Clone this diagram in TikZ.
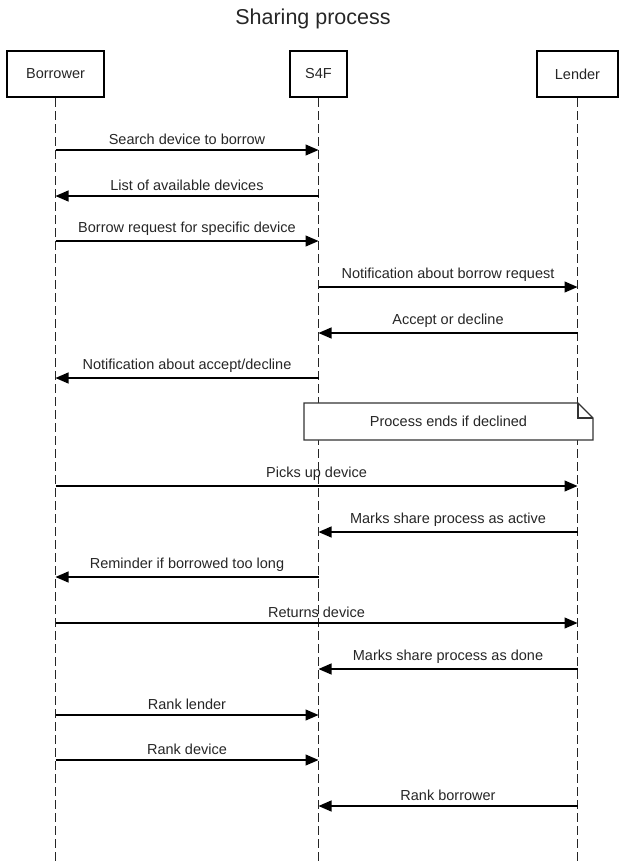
\documentclass[tikz,border=0pt]{standalone}
\usepackage{fontspec}
\setmainfont{Liberation Sans}
\usepackage{tikz}
\usetikzlibrary{arrows.meta, positioning, calc}
\tikzstyle{arrow} = [line width=1.1pt, -{Triangle[length=13pt, width=11pt]}]
\tikzstyle{participant} = [rectangle, minimum width=97pt, minimum height=46pt, text centered, draw=black, line width=2.4pt, font=\fontsize{14.5}{17}\selectfont, text=black!85]
\tikzstyle{lifeline} = [dash pattern=on 9pt off 4pt, line width=1.2pt, draw=black!85]
\tikzstyle{msg} = [above, inner sep=0pt, yshift=5pt, font=\fontsize{14.5}{17}\selectfont, text=black!85]

\begin{document}
\begin{tikzpicture}[x=1pt, y=-1pt]
    \useasboundingbox (0,0) rectangle (626,863);
    % Title
    \node[font=\fontsize{21.5}{25}\selectfont, text=black!85] (title) at (313,18.5) {Sharing process};

    % Actors
    \node[participant] (borrower) at (55.5,74) {Borrower};
    \node[participant, minimum width=57pt] (s4f) at (318.5,74) {S4F};
    \node[participant, minimum width=81pt] (lender) at (577.5,74) {Lender};

    % Timeline
    \draw[lifeline] (borrower.south) -- (borrower |- 0,863);
    \draw[lifeline] (s4f.south) -- (s4f |- 0,863);
    \draw[lifeline] (lender.south) -- (lender |- 0,863);

    % Note
    \coordinate (note) at (448.5,421.5);
    \filldraw[fill=white, draw=black!80, line width=1.1pt] ($(note)+(-144.5,18.5)$) -- ($(note)+(-144.5,-18.5)$) -- ($(note)+(129.5,-18.5)$) -- ($(note)+(144.5,-3.5)$) -- ($(note)+(144.5,18.5)$) -- cycle;
    \draw[black!80, line width=1.1pt] ($(note)+(129.5,-18.5)$) -- ($(note)+(129.5,-3.5)$) -- ($(note)+(144.5,-3.5)$);
    \node[font=\fontsize{14.5}{17}\selectfont, text=black!85] (notetext) at (note) {Process ends if declined};

    % Messages
    \draw[arrow] (borrower |- 0,150) -- node[msg] {Search device to borrow} (s4f |- 0,150);
    \draw[arrow] (s4f |- 0,196) -- node[msg] {List of available devices} (borrower |- 0,196);
    \draw[arrow] (borrower |- 0,241) -- node[msg] {Borrow request for specific device} (s4f |- 0,241);
    \draw[arrow] (s4f |- 0,287) -- node[msg] {Notification about borrow request} (lender |- 0,287);
    \draw[arrow] (lender |- 0,333) -- node[msg] {Accept or decline} (s4f |- 0,333);
    \draw[arrow] (s4f |- 0,378) -- node[msg] {Notification about accept/decline} (borrower |- 0,378);
    \draw[arrow] (borrower |- 0,486) -- node[msg] {Picks up device} (lender |- 0,486);
    \draw[arrow] (lender |- 0,532) -- node[msg] {Marks share process as active} (s4f |- 0,532);
    \draw[arrow] (s4f |- 0,577) -- node[msg] {Reminder if borrowed too long} (borrower |- 0,577);
    \draw[arrow] (borrower |- 0,623) -- node[msg] {Returns device} (lender |- 0,623);
    \draw[arrow] (lender |- 0,669) -- node[msg] {Marks share process as done} (s4f |- 0,669);
    \draw[arrow] (borrower |- 0,715) -- node[msg] {Rank lender} (s4f |- 0,715);
    \draw[arrow] (borrower |- 0,760) -- node[msg] {Rank device} (s4f |- 0,760);
    \draw[arrow] (lender |- 0,806) -- node[msg] {Rank borrower} (s4f |- 0,806);

\end{tikzpicture}
\end{document}
